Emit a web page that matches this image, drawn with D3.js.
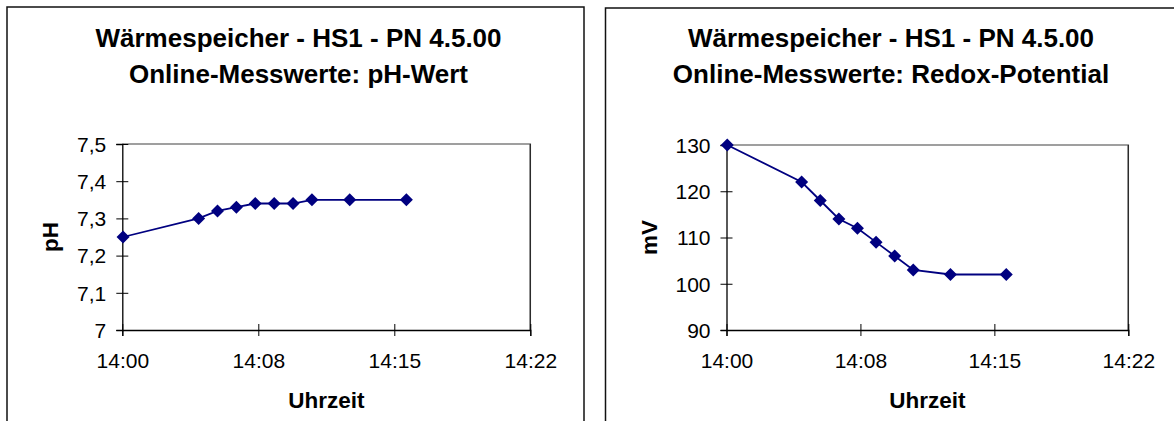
<!DOCTYPE html>
<html>
<head>
<meta charset="utf-8">
<script src="https://cdn.jsdelivr.net/npm/d3@7"></script>
<style>
  html, body { margin: 0; padding: 0; background: #fff; }
  svg { display: block; font-family: Arial, "Liberation Sans", sans-serif; }
</style>
</head>
<body>
<svg id="chart" width="1174" height="421"></svg>
<script>
// Sample times (HH:MM) shared by both online measurements
const times = ["14:01", "14:05", "14:06", "14:07", "14:08", "14:09", "14:10", "14:11", "14:13", "14:16"];
// pH values
const phValues = [7.25, 7.30, 7.32, 7.33, 7.34, 7.34, 7.34, 7.35, 7.35, 7.35];
// Redox potential in mV
const redoxValues = [130, 122, 118, 114, 112, 109, 106, 103, 102, 102];

// Time axis: Excel-style fractional-day bounds (0.584 .. 0.599, step 0.005)
const axisStartDay = 0.584, axisEndDay = 0.599, axisStepDay = 0.005;
const phTicks = [7, 7.1, 7.2, 7.3, 7.4, 7.5];
const redoxTicks = [90, 100, 110, 120, 130];

const titleLine1 = "Wärmespeicher - HS1 - PN 4.5.00";
const phTitle2 = "Online-Messwerte: pH-Wert";
const redoxTitle2 = "Online-Messwerte: Redox-Potential";
const xTitle = "Uhrzeit";

const base = new Date(2000, 0, 1, 0, 0, 0);
const dayToDate = d => new Date(base.getTime() + d * 86400000);
const parseTime = s => { const [h, m] = s.split(":").map(Number); return new Date(2000, 0, 1, h, m, 0); };
const xTickDates = d3.range(0, 4).map(i => dayToDate(axisStartDay + i * axisStepDay));

const svg = d3.select("#chart");
const fmtTime = d3.timeFormat("%H:%M");
const fmtComma = d => String(d).replace(".", ",");
const FONT = "Arial, 'Liberation Sans', sans-serif";

function drawPanel(o) {
  const g = svg.append("g");
  // chart area frame
  g.append("rect").attr("x", o.frame[0]).attr("y", o.frame[1])
    .attr("width", o.frame[2]).attr("height", o.frame[3])
    .attr("fill", "#fff").attr("stroke", "#111").attr("stroke-width", 1.5);

  const x = d3.scaleTime().domain([dayToDate(axisStartDay), dayToDate(axisEndDay)]).range([o.left, o.right]);
  const y = d3.scaleLinear().domain(o.yDomain).range([o.bottom, o.top]);

  // plot area border (top and right)
  g.append("path")
    .attr("d", `M${o.left},${o.top}H${o.right}V${o.bottom}`)
    .attr("fill", "none").attr("stroke", "#808080").attr("stroke-width", 1.5);
  g.append("line").attr("x1", o.right).attr("x2", o.right).attr("y1", o.top).attr("y2", o.bottom)
    .attr("stroke", "#222").attr("stroke-width", 1.2);

  // y axis
  const yAxis = g.append("g").attr("transform", `translate(${o.left},0)`)
    .call(d3.axisLeft(y).tickValues(o.yTicks).tickFormat(o.yFormat).tickSize(6).tickPadding(10));
  yAxis.select(".domain").attr("stroke", "#000").attr("stroke-width", 1.3);
  yAxis.selectAll(".tick line").attr("x2", 6).attr("x1", -6).attr("stroke", "#000");
  yAxis.selectAll(".tick text").attr("font-size", 21).attr("fill", "#000")
    .attr("font-family", FONT).attr("x", -16).attr("dy", "0.35em");

  // x axis
  const xAxis = g.append("g").attr("transform", `translate(0,${o.bottom})`)
    .call(d3.axisBottom(x).tickValues(xTickDates).tickFormat(fmtTime).tickSize(6));
  xAxis.select(".domain").attr("stroke", "#000").attr("stroke-width", 1.3);
  xAxis.selectAll(".tick line").attr("y1", -6).attr("y2", 6).attr("stroke", "#000");
  xAxis.selectAll(".tick text").attr("font-size", 21).attr("fill", "#000")
    .attr("font-family", FONT).attr("y", 38).attr("dy", 0);

  // series line
  const pts = o.times.map((t, i) => ({ t: parseTime(t), v: o.values[i] }));
  g.append("path").datum(pts)
    .attr("d", d3.line().x(d => x(d.t)).y(d => y(d.v)))
    .attr("fill", "none").attr("stroke", "#000080").attr("stroke-width", 1.8);
  // diamond markers
  const dm = 6.5;
  g.selectAll(".mk").data(pts).join("path")
    .attr("d", d => { const cx = x(d.t), cy = y(d.v);
      return `M${cx},${cy - dm}L${cx + dm},${cy}L${cx},${cy + dm}L${cx - dm},${cy}Z`; })
    .attr("fill", "#000080");

  // titles
  g.append("text").attr("x", o.titleX).attr("y", 47).attr("text-anchor", "middle")
    .attr("font-size", 26).attr("font-weight", "bold").text(titleLine1);
  g.append("text").attr("x", o.titleX).attr("y", 83).attr("text-anchor", "middle")
    .attr("font-size", 26).attr("font-weight", "bold").text(o.title2);

  // axis titles
  g.append("text").attr("x", (o.left + o.right) / 2).attr("y", 408).attr("text-anchor", "middle")
    .attr("font-size", 22.5).attr("font-weight", "bold").text(xTitle);
  g.append("text").attr("transform", `translate(${o.yTitleX},${(o.top + o.bottom) / 2}) rotate(-90)`)
    .attr("text-anchor", "middle").attr("font-size", 22.5).attr("font-weight", "bold").text(o.yTitle);
}

drawPanel({
  frame: [7, 7, 577, 430], left: 122.3, right: 530.3, top: 144, bottom: 330,
  yDomain: [7, 7.5], yTicks: phTicks, yFormat: fmtComma,
  times: times, values: phValues, title2: phTitle2, titleX: 298.5, yTitle: "pH", yTitleX: 58
});
drawPanel({
  frame: [605.5, 8, 590, 430], left: 726.5, right: 1128.3, top: 145, bottom: 330,
  yDomain: [90, 130], yTicks: redoxTicks, yFormat: d => String(d),
  times: times, values: redoxValues, title2: redoxTitle2, titleX: 891, yTitle: "mV", yTitleX: 656.5
});
</script>
</body>
</html>
